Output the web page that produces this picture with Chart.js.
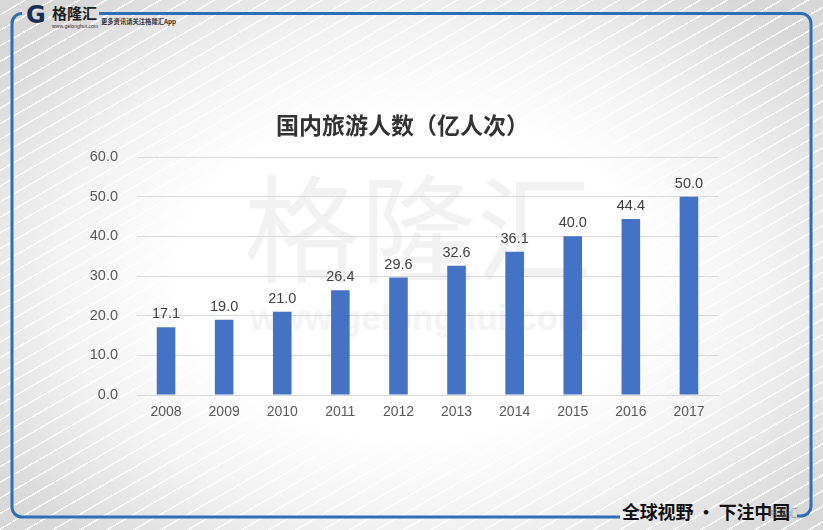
<!DOCTYPE html>
<html>
<head>
<meta charset="utf-8">
<script src="https://cdn.jsdelivr.net/npm/chart.js@4.4.1/dist/chart.umd.min.js"></script>
<style>
  html, body { margin: 0; padding: 0; }
  body {
    width: 823px; height: 530px; position: relative; overflow: hidden;
    background:
      repeating-linear-gradient(150deg, rgba(255,255,255,0) 0 12px, rgba(255,255,255,0.85) 12px 13.5px),
      radial-gradient(ellipse 62% 68% at 50% 52%, #ffffff 45%, #f2f2f2 70%, #d8d8d8 100%);
    font-family: "Liberation Sans", Arial, sans-serif;
  }
  .abs { position: absolute; white-space: nowrap; }
  #frame { position: absolute; left: 0; top: 0; }
  #wm1 { left: 244px; top: 152px; font-family: "Noto Sans CJK SC"; font-size: 116px; line-height: 140px; color: #f2f2f2; }
  #wm2 { left: 250px; top: 298px; font-family: "Liberation Sans"; font-weight: bold; font-size: 35px; line-height: 40px; color: #f4f4f4; }
  #chartWrap { position: absolute; left: 0; top: 0; width: 823px; height: 530px; }
  #logoG { left: 26px; top: 2px; font-family: "DejaVu Sans"; font-weight: bold; font-size: 24px; line-height: 26px; color: #1b2f55; }
  #logoName { left: 52px; top: 3px; font-family: "Noto Sans CJK SC"; font-weight: bold; font-size: 15px; line-height: 20px; color: #1e1e1e; }
  #logoUrl { left: 52px; top: 23px; font-size: 5.2px; line-height: 7px; color: #333; }
  #logoTip { left: 101px; top: 17px; font-family: "Noto Sans CJK SC"; font-weight: bold; font-size: 6.3px; line-height: 9px; color: #333; }
  #footer { left: 622px; top: 499px; font-family: "Noto Sans CJK SC"; font-weight: bold; font-size: 18px; line-height: 24px; color: #111; letter-spacing: -0.2px; }
  #footerWm { left: 768px; top: 506px; font-family: "Noto Sans CJK SC"; font-size: 10px; line-height: 14px; color: rgba(110,110,110,0.55); }
</style>
</head>
<body>
<div id="wm1" class="abs">格隆汇</div>
<div id="wm2" class="abs">www.gelonghui.com</div>
<svg id="frame" width="823" height="530">
  <path d="M 99 13.5 L 801 13.5 A 10 10 0 0 1 811 23.5 L 811 506 A 10 10 0 0 1 801 516 L 797 516" fill="none" stroke="#2f6db6" stroke-width="3"/>
  <path d="M 22 13.5 A 10 10 0 0 0 12 23.5 L 12 507 A 10 10 0 0 0 22 517 L 620 517" fill="none" stroke="#2f6db6" stroke-width="3"/>
</svg>
<div id="logoG" class="abs">G</div>
<div id="logoName" class="abs">格隆汇</div>
<div id="logoUrl" class="abs">www.gelonghui.com</div>
<div id="logoTip" class="abs">更多资讯请关注格隆汇App</div>
<div id="footer" class="abs">全球视野 · 下注中国</div>
<div id="footerWm" class="abs">格隆汇</div>
<div id="chartWrap"><canvas id="c" width="823" height="530"></canvas></div>
<script>
const categories = ["2008", "2009", "2010", "2011", "2012", "2013", "2014", "2015", "2016", "2017"];
const visitors = [17.1, 19.0, 21.0, 26.4, 29.6, 32.6, 36.1, 40.0, 44.4, 50.0];
const yTicks = [0, 10, 20, 30, 40, 50, 60];
const chartTitle = "国内旅游人数（亿人次）";

const valueLabels = {
  id: "valueLabels",
  afterDatasetsDraw(chart) {
    const ctx = chart.ctx;
    const meta = chart.getDatasetMeta(0);
    ctx.save();
    ctx.font = "14.5px 'Liberation Sans', Arial, sans-serif";
    ctx.fillStyle = "#404040";
    ctx.textAlign = "center";
    ctx.textBaseline = "middle";
    meta.data.forEach((bar, i) => {
      ctx.fillText(visitors[i].toFixed(1), bar.x, bar.y - 13);
    });
    ctx.restore();
  }
};

new Chart(document.getElementById("c"), {
  type: "bar",
  data: {
    labels: categories,
    datasets: [{
      data: visitors,
      backgroundColor: "#4472c4",
      borderWidth: 0,
      categoryPercentage: 1,
      barPercentage: 0.32
    }]
  },
  options: {
    responsive: false,
    animation: false,
    devicePixelRatio: 1,
    layout: { padding: { left: 87, right: 105, top: 111.2, bottom: 95 } },
    plugins: {
      legend: { display: false },
      tooltip: { enabled: false },
      title: {
        display: true,
        text: chartTitle,
        color: "#333333",
        font: { family: "'Noto Sans CJK SC'", size: 23, weight: "bold", lineHeight: 1.2 },
        padding: { top: 0, bottom: 18.2 }
      }
    },
    scales: {
      x: {
        grid: { display: false, drawTicks: false },
        border: { display: true, color: "#d9d9d9", width: 1 },
        ticks: { color: "#595959", padding: 9, font: { family: "'Liberation Sans', Arial", size: 14 } },
        afterFit: (s) => { s.height = 40; }
      },
      y: {
        min: 0, max: 60,
        afterBuildTicks: (s) => { s.ticks = yTicks.map(v => ({ value: v })); },
        grid: { color: "#d9d9d9", lineWidth: 1, drawTicks: false },
        border: { display: false },
        ticks: {
          color: "#595959", padding: 19,
          font: { family: "'Liberation Sans', Arial", size: 14.5 },
          callback: (v) => Number(v).toFixed(1)
        },
        afterFit: (s) => { s.width = 50; }
      }
    }
  },
  plugins: [valueLabels]
});
</script>
</body>
</html>
